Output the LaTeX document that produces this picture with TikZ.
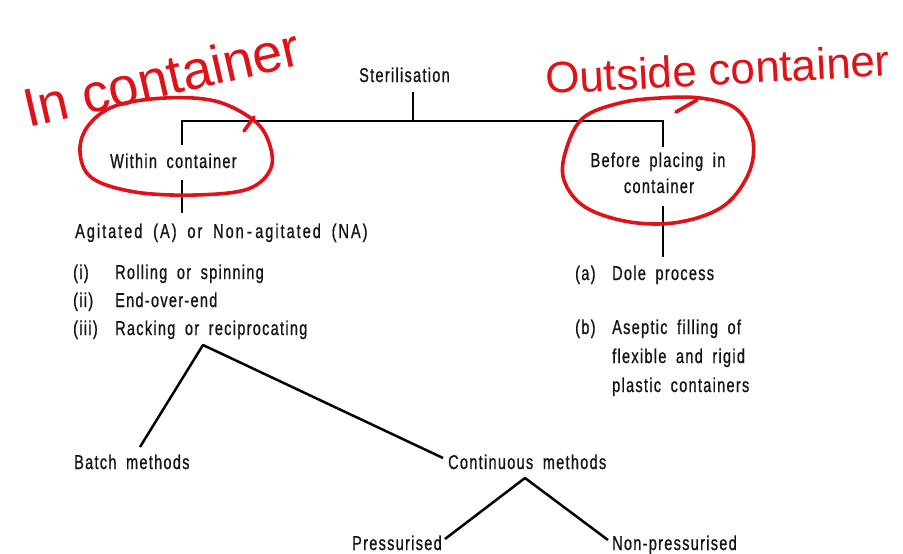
\documentclass[tikz,border=0pt]{standalone}
\usepackage{fontspec}
\setmainfont{Liberation Sans}[FakeStretch=0.725,LetterSpace=6.5,WordSpace=1.8,FakeBold=0.8]
\newfontfamily\hand{Liberation Sans}
\definecolor{pen}{RGB}{222,18,24}
\definecolor{ink}{RGB}{20,20,20}
\begin{document}
\begin{tikzpicture}[x=1pt,y=-1pt,
  lab/.style={font=\fontsize{20}{23}\selectfont, inner sep=0pt, anchor=base west, text=ink},
  labc/.style={lab, anchor=base},
  conn/.style={draw=black, line width=2.5pt},
  loop/.style={draw=pen, line width=3.6pt, line cap=round, line join=round},
  handtext/.style={text=pen, inner sep=0pt, anchor=base west}]
\useasboundingbox[fill=white] (0,0) rectangle (903,554);

% ---------- text nodes ----------
\node[lab] (steril) at (359,82) {Sterilisation};
\node[lab] (within) at (110,168) {Within container};
\node[labc] (before) at (658,167) {Before placing in};
\node[labc] (before2) at (659,193) {container};
\node[lab] (agit) at (75,238) {\addfontfeature{LetterSpace=10}Agitated (A) or Non\,-\,agitated (NA)};

\node[lab] (li) at (73,279) {(i)};
\node[lab] (lii) at (73,307) {(ii)};
\node[lab] (liii) at (73,335) {(iii)};
\node[lab] (ti) at (115,279) {Rolling or spinning};
\node[lab] (tii) at (115,307) {End-over-end};
\node[lab] (tiii) at (115,335) {Racking or reciprocating};

\node[lab] (la) at (575,280) {(a)};
\node[lab] (ta) at (612,280) {Dole process};
\node[lab] (lb) at (575,334) {(b)};
\node[lab] (tb1) at (612,334) {Aseptic filling of};
\node[lab] (tb2) at (612,363) {flexible and rigid};
\node[lab] (tb3) at (612,392) {plastic containers};

\node[lab] (batch) at (74,469) {Batch methods};
\node[lab] (cont) at (448,469) {Continuous methods};
\node[lab] (press) at (352,550) {Pressurised};
\node[lab] (nonp) at (612,550) {Non-pressurised};

% ---------- connector coordinates ----------
\coordinate (sT) at (413,92);
\coordinate (bus) at (413,121);
\coordinate (wT) at (182,145);
\coordinate (bT) at (663,147);
\coordinate (wB) at (182,180);
\coordinate (aT) at (182,213);
\coordinate (bB) at (663,206);
\coordinate (dT) at (663,257);
\coordinate (apex) at (203,345);
\coordinate (batchT) at (140,447);
\coordinate (contL) at (443,458);
\coordinate (capex) at (525,478);
\coordinate (pressR) at (445,539);
\coordinate (nonpL) at (608,540);

% ---------- connectors ----------
\draw[conn] (sT) -- (bus);
\draw[conn, line join=miter] (wT) -- (wT |- bus) -- (bT |- bus) -- (bT);
\draw[conn] (wB) -- (aT);
\draw[conn] (bB) -- (dT);
\draw[conn, line join=round] (batchT) -- (apex) -- (contL);
\draw[conn, line join=round] (pressR) -- (capex) -- (nonpL);

% ---------- red handwritten annotations ----------
\node[handtext, font=\hand\fontsize{54}{56}\selectfont, rotate=13] (incont) at (28,128) {In container};
\node[handtext, font=\hand\fontsize{44}{48}\selectfont, rotate=3] (outcont) at (546,94) {Outside container};

\draw[loop] plot[smooth cycle, tension=0.6] coordinates {
  (252,119) (215,101) (165,98) (115,106) (88,126) (80,152) (92,178)
  (135,192) (195,195) (248,189) (271,168) (268,140)};
\draw[loop] (244,131) -- (254,117);

\draw[loop] plot[smooth cycle, tension=0.6] coordinates {
  (583,118) (620,103) (660,98) (700,98) (735,108) (752,135) (750,170)
  (725,205) (680,222) (630,222) (585,207) (564,180) (566,150)};
\draw[loop] (697,100) -- (676,112);
\end{tikzpicture}
\end{document}
